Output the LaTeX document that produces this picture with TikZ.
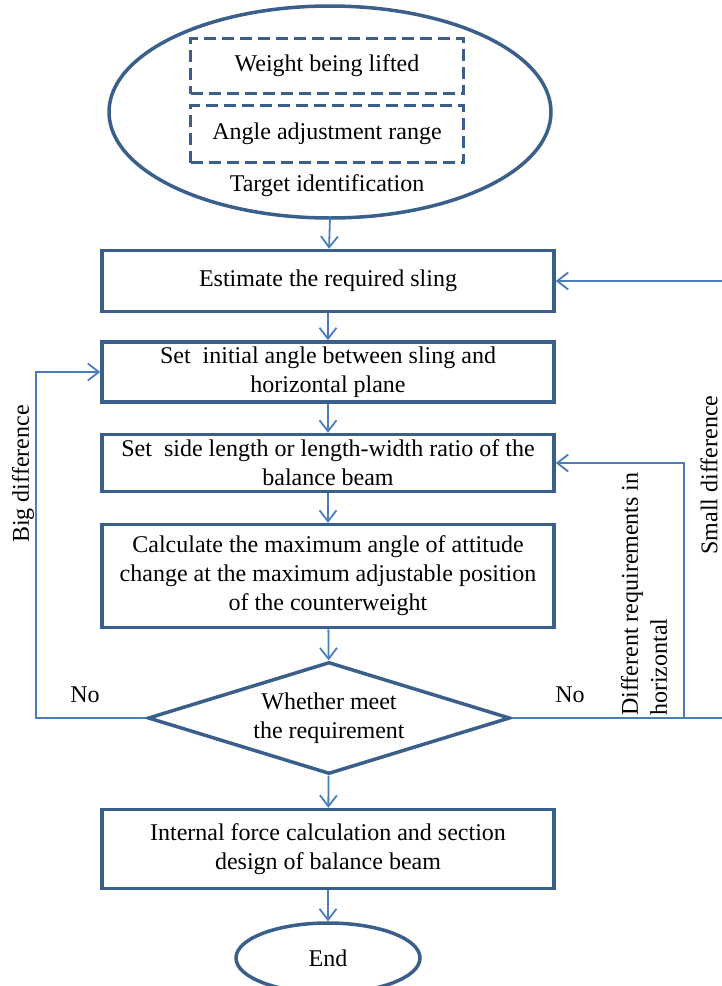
\documentclass[tikz,border=0pt]{standalone}
\usepackage{fontspec}
\setmainfont{Liberation Serif}
\usepackage{tikz}
\usetikzlibrary{arrows.meta,shapes.geometric,calc,positioning}
\definecolor{boxblue}{RGB}{58,95,139}
\definecolor{lineblue}{RGB}{74,126,187}
\newcommand{\flowfont}{\fontsize{24}{29}\selectfont}

\begin{document}
\begin{tikzpicture}[x=1pt,y=-1pt,>={Straight Barb[length=11pt,width=17pt]},
	every node/.style={font=\flowfont,inner sep=0pt},
	stepbox/.style={rectangle,draw=boxblue,line width=3.5pt,minimum width=452pt,align=center},
	dashbox/.style={rectangle,draw=boxblue,line width=3.5pt,dash pattern=on 12pt off 6pt,minimum width=273pt},
	flow/.style={->,draw=lineblue,line width=1.8pt}]
					\useasboundingbox (0,0) rectangle (721,986);
					
					\node[ellipse,draw=boxblue,line width=3.5pt,minimum width=442pt,minimum height=212pt] (target) at (330,112) {};
					\node[dashbox,minimum height=55pt] (weight) at (327,66) {Weight being lifted};
					\node[dashbox,minimum height=57pt] (range) at (327,134) {Angle adjustment range};
					\node (targetlabel) at (327,186) {Target identification};
					
					\node[stepbox,minimum height=61pt] (est) at (328,281) {Estimate the required sling};
					\node[stepbox,minimum height=60pt] (ang) at (328,372) {Set\ \ initial angle between sling and\\horizontal plane};
					\node[stepbox,minimum height=57pt] (side) at (328,463) {Set\ \ side length or length-width ratio of the\\balance beam};
					\node[stepbox,minimum height=103pt] (calc) at (328,576) {Calculate the maximum angle of attitude\\change at the maximum adjustable position\\of the counterweight};
					\node[diamond,draw=boxblue,line width=3.5pt,aspect=3.2,minimum width=362pt,minimum height=112pt,align=center] (check) at (329,718) {Whether meet\\the requirement};
					\node[stepbox,minimum height=79pt] (force) at (328,849) {Internal force calculation and section\\design of balance beam};
					\node[ellipse,draw=boxblue,line width=3.5pt,minimum width=184pt,minimum height=70pt] (end) at (328,958) {End};
					
					\draw[flow] (330,218) -- (est);
					\draw[flow] (est) -- (ang);
					\draw[flow] (ang) -- (side);
					\draw[flow] (side) -- (calc);
					\draw[flow] (calc) -- (check);
					\draw[flow] (check) -- (force);
					\draw[flow] (force) -- (end);
					
					\draw[flow] (check.west) -- ++(-110,0) |- (ang.west);
					\draw[flow] (check.east) -- ++(172,0) |- (side.east);
					\draw[flow] (check.east) -- ++(232,0) |- (est.east);
					
					\node (nleft) at (85,695) {No};
					\node (nright) at (570,695) {No};
					\node[rotate=90] (big) at (23,474) {Big difference};
					\node[rotate=90] (small) at (709,475) {Small difference};
					\node[rotate=90,anchor=west,align=left] (horiz) at (644,716) {Different requirements in\\horizontal};
					\end{tikzpicture}
\end{document}
